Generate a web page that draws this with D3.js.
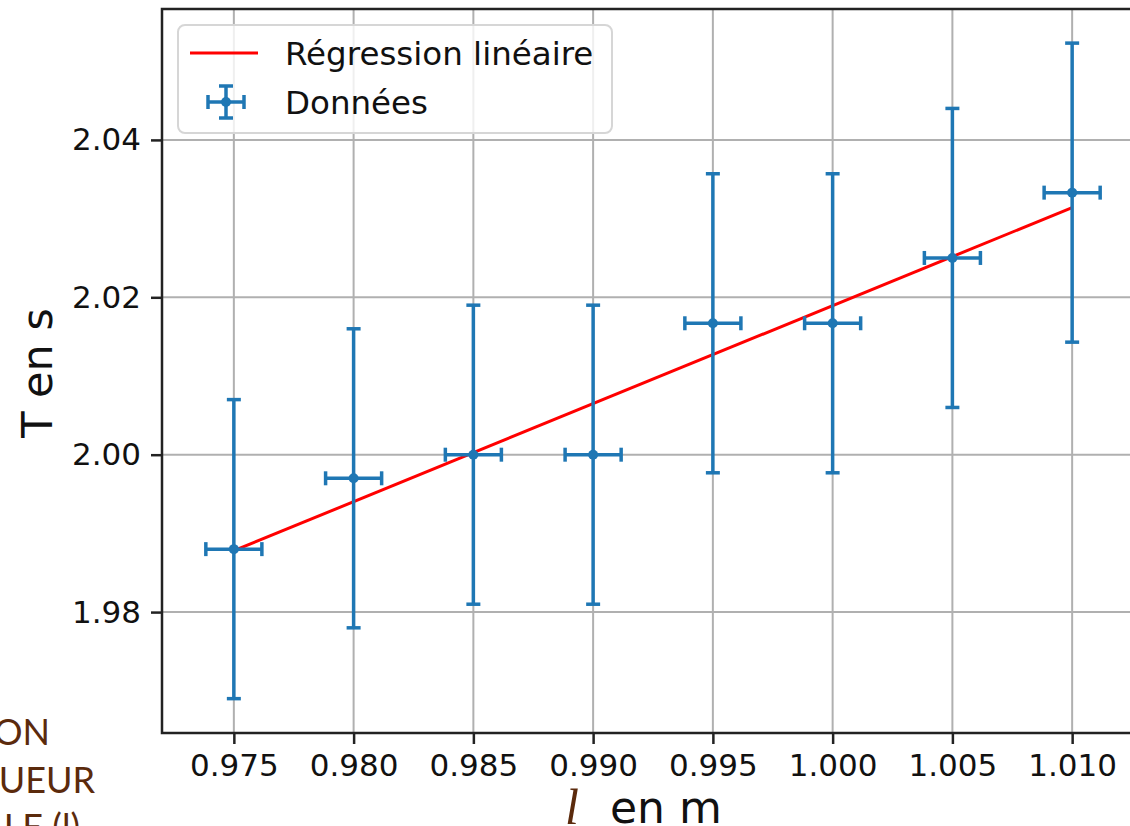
<!DOCTYPE html>
<html><head><meta charset="utf-8">
<script src="https://cdn.jsdelivr.net/npm/d3@7"></script>
<style>body{margin:0;background:#fff}svg{display:block}</style>
</head><body>
<svg id="c" width="1130" height="826"></svg>
<script>
const lengths = [0.975, 0.980, 0.985, 0.990, 0.995, 1.000, 1.005, 1.010];
const periods = [1.988, 1.997, 2.000, 2.000, 2.0167, 2.0167, 2.025, 2.0333];
const periodErr = [0.019, 0.019, 0.019, 0.019, 0.019, 0.019, 0.019, 0.019];
const lengthErr = [0.00117, 0.00117, 0.00117, 0.00117, 0.00117, 0.00117, 0.00117, 0.00117];
const regX = [0.975, 1.010];
const regY = [1.9878, 2.0314];
const xTicks = [0.975, 0.980, 0.985, 0.990, 0.995, 1.000, 1.005, 1.010];
const yTicks = [1.98, 2.00, 2.02, 2.04];

const svg = d3.select("#c");
const L = 162, R = 1144, T = 9, B = 733;
const x = d3.scaleLinear().domain([0.972, 1.013]).range([L, R]);
const y = d3.scaleLinear().domain([1.964635, 2.056635]).range([B, T]);
const font = "DejaVu Sans";
const blue = "#1f77b4";

// grid
svg.append("g").selectAll("line").data(xTicks).join("line")
  .attr("x1", d => x(d)).attr("x2", d => x(d)).attr("y1", T).attr("y2", B)
  .attr("stroke", "#b0b0b0").attr("stroke-width", 2);
svg.append("g").selectAll("line").data(yTicks).join("line")
  .attr("y1", d => y(d)).attr("y2", d => y(d)).attr("x1", L).attr("x2", R)
  .attr("stroke", "#b0b0b0").attr("stroke-width", 2);

// axes
const xAxis = svg.append("g").attr("transform", `translate(0,${B})`)
  .call(d3.axisBottom(x).tickValues(xTicks).tickFormat(d3.format(".3f")).tickSize(11).tickPadding(10).tickSizeOuter(0));
const yAxis = svg.append("g").attr("transform", `translate(${L},0)`)
  .call(d3.axisLeft(y).tickValues(yTicks).tickFormat(d3.format(".2f")).tickSize(11).tickPadding(10).tickSizeOuter(0));
[xAxis, yAxis].forEach(a => {
  a.select(".domain").remove();
  a.selectAll("line").attr("stroke", "#222").attr("stroke-width", 2.5);
  a.selectAll("text").attr("font-family", font).attr("font-size", 31).attr("fill", "#111");
});

// spines
svg.append("rect").attr("x", L).attr("y", T).attr("width", R - L).attr("height", B - T)
  .attr("fill", "none").attr("stroke", "#222").attr("stroke-width", 2.5);

// regression line
svg.append("path").datum(regX.map((d, i) => [d, regY[i]]))
  .attr("d", d3.line().x(d => x(d[0])).y(d => y(d[1])))
  .attr("stroke", "#ff0000").attr("stroke-width", 3).attr("fill", "none");

// error bars
const pts = lengths.map((d, i) => ({x: d, y: periods[i], ey: periodErr[i], ex: lengthErr[i]}));
const g = svg.append("g").attr("stroke", blue).attr("stroke-width", 3.5).attr("fill", "none");
const cap = 7;
pts.forEach(p => {
  g.append("line").attr("x1", x(p.x)).attr("x2", x(p.x)).attr("y1", y(p.y - p.ey)).attr("y2", y(p.y + p.ey));
  g.append("line").attr("x1", x(p.x - p.ex)).attr("x2", x(p.x + p.ex)).attr("y1", y(p.y)).attr("y2", y(p.y));
  [p.y - p.ey, p.y + p.ey].forEach(v => g.append("line").attr("x1", x(p.x) - cap).attr("x2", x(p.x) + cap).attr("y1", y(v)).attr("y2", y(v)));
  [p.x - p.ex, p.x + p.ex].forEach(v => g.append("line").attr("x1", x(v)).attr("x2", x(v)).attr("y1", y(p.y) - cap).attr("y2", y(p.y) + cap));
});
svg.append("g").selectAll("circle").data(pts).join("circle")
  .attr("cx", d => x(d.x)).attr("cy", d => y(d.y)).attr("r", 5).attr("fill", blue);

// legend
const lg = svg.append("g");
lg.append("rect").attr("x", 178).attr("y", 25).attr("width", 434).attr("height", 108).attr("rx", 7)
  .attr("fill", "#fff").attr("fill-opacity", 0.8).attr("stroke", "#d6d6d6").attr("stroke-width", 2);
lg.append("line").attr("x1", 190).attr("x2", 258).attr("y1", 53).attr("y2", 53).attr("stroke", "#ff0000").attr("stroke-width", 3);
const lx = 226, ly = 102;
lg.append("line").attr("x1", lx - 18).attr("x2", lx + 18).attr("y1", ly).attr("y2", ly).attr("stroke", blue).attr("stroke-width", 3.5);
lg.append("line").attr("x1", lx).attr("x2", lx).attr("y1", ly - 16).attr("y2", ly + 16).attr("stroke", blue).attr("stroke-width", 3.5);
[lx - 18, lx + 18].forEach(c => lg.append("line").attr("x1", c).attr("x2", c).attr("y1", ly - cap).attr("y2", ly + cap).attr("stroke", blue).attr("stroke-width", 3.5));
[ly - 16, ly + 16].forEach(v => lg.append("line").attr("x1", lx - cap).attr("x2", lx + cap).attr("y1", v).attr("y2", v).attr("stroke", blue).attr("stroke-width", 3.5));
lg.append("circle").attr("cx", lx).attr("cy", ly).attr("r", 5).attr("fill", blue);
lg.append("text").attr("x", 285).attr("y", 65).text("Régression linéaire")
  .attr("font-family", font).attr("font-size", 32.5).attr("fill", "#111");
lg.append("text").attr("x", 285).attr("y", 114).text("Données")
  .attr("font-family", font).attr("font-size", 32.5).attr("fill", "#111");

// axis labels
svg.append("text").attr("transform", "translate(52,373) rotate(-90)").attr("text-anchor", "middle")
  .attr("font-family", font).attr("font-size", 43).attr("fill", "#111").text("T en s");
svg.append("text").attr("x", 610).attr("y", 823).attr("font-family", font).attr("font-size", 44).attr("fill", "#111").text("en m");
svg.append("text").attr("x", 565).attr("y", 824).attr("font-family", "Liberation Serif").attr("font-style", "italic")
  .attr("font-size", 50).attr("fill", "#5b2a0c").text("l");

// overlay slide text (clipped on the left)
const brown = "#5b2a0c";
[["ON", 745], ["UEUR", 793], ["LE (l)", 840]].forEach(([t, yy], i) => {
  svg.append("text").attr("x", [50, 95, 80][i]).attr("y", yy).attr("text-anchor", "end")
    .attr("font-family", "Lato").attr("font-size", 36).attr("fill", brown).text(t);
});
</script>
</body></html>
